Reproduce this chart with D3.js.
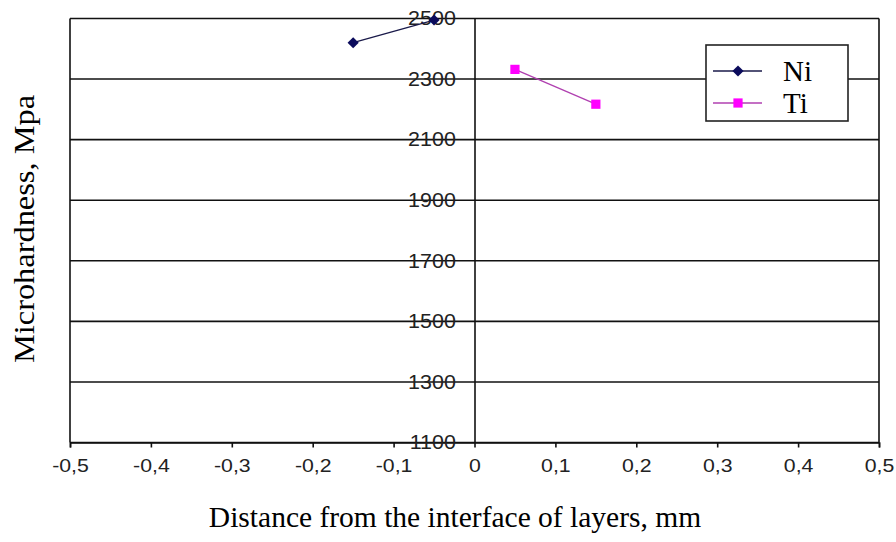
<!DOCTYPE html>
<html>
<head>
<meta charset="utf-8">
<script src="https://cdn.jsdelivr.net/npm/d3@7/dist/d3.min.js"></script>
<style>
  html, body { margin: 0; padding: 0; background: #fff; }
  svg { display: block; }
</style>
</head>
<body>
<svg id="chart" width="896" height="542"></svg>
<script>
// ---- data ----
const niX = [-0.15, -0.05];
const niY = [2420, 2495];
const tiX = [0.05, 0.15];
const tiY = [2332, 2217];
const xTicks = [-0.5, -0.4, -0.3, -0.2, -0.1, 0, 0.1, 0.2, 0.3, 0.4, 0.5];
const yTicks = [1100, 1300, 1500, 1700, 1900, 2100, 2300, 2500];
const seriesNames = ["Ni", "Ti"];
const seriesColors = ["#0b0b5c", "#ff00ff"];
const lineColors = ["#1a1a4a", "#b040b0"];

(function () {
const svg = d3.select("#chart");
const pLeft = 70, pRight = 879, pTop = 18.5, pBottom = 442.5;

const x = d3.scaleLinear().domain([-0.5, 0.5]).range([pLeft, pRight]);
const y = d3.scaleLinear().domain([1100, 2500]).range([pBottom, pTop]);

const fmt = v => (v === 0 ? "0" : d3.format(".1f")(v).replace(".", ",").replace("\u2212", "-"));

// horizontal gridlines
svg.append("g").selectAll("line").data(yTicks).join("line")
  .attr("x1", pLeft).attr("x2", pRight)
  .attr("y1", d => y(d)).attr("y2", d => y(d))
  .attr("stroke", "#111").attr("stroke-width", 1.6);

// left and right borders
svg.append("line").attr("x1", pLeft).attr("x2", pLeft).attr("y1", pTop).attr("y2", pBottom)
  .attr("stroke", "#111").attr("stroke-width", 1.6);
svg.append("line").attr("x1", pRight).attr("x2", pRight).attr("y1", pTop).attr("y2", pBottom)
  .attr("stroke", "#111").attr("stroke-width", 1.6);

// x axis at bottom
const xAxis = d3.axisBottom(x).tickValues(xTicks).tickSize(5).tickPadding(11).tickFormat(fmt);
const gx = svg.append("g").attr("transform", `translate(0,${pBottom})`).call(xAxis);
gx.select(".domain").attr("stroke", "#111").attr("stroke-width", 1.6);
gx.selectAll(".tick line").attr("stroke", "#111").attr("stroke-width", 1.6);
gx.selectAll(".tick text")
  .attr("fill", "#222")
  .attr("transform", "scale(1.12,1)")
  .style("font-family", "'Liberation Sans', Arial, sans-serif")
  .style("font-size", "19px");

// y axis at x=0
const yAxis = d3.axisLeft(y).tickValues(yTicks).tickSize(0).tickPadding(17).tickFormat(d3.format("d"));
const gy = svg.append("g").attr("transform", `translate(${x(0)},0)`).call(yAxis);
gy.select(".domain").attr("stroke", "#111").attr("stroke-width", 1.6);
gy.selectAll(".tick text")
  .attr("fill", "#222")
  .attr("transform", "scale(1.1,1)")
  .style("font-family", "'Liberation Sans', Arial, sans-serif")
  .style("font-size", "19.5px");

// series lines + markers
const line = d3.line().x(d => x(d[0])).y(d => y(d[1]));
const niPts = niX.map((v, i) => [v, niY[i]]);
const tiPts = tiX.map((v, i) => [v, tiY[i]]);

svg.append("path").datum(niPts).attr("d", line)
  .attr("fill", "none").attr("stroke", lineColors[0]).attr("stroke-width", 1.3);
svg.append("path").datum(tiPts).attr("d", line)
  .attr("fill", "none").attr("stroke", lineColors[1]).attr("stroke-width", 1.3);

const diamond = d3.symbol().type(d3.symbolDiamond2).size(80);
const square = d3.symbol().type(d3.symbolSquare).size(85);

svg.append("g").selectAll("path").data(niPts).join("path")
  .attr("d", diamond).attr("transform", d => `translate(${x(d[0])},${y(d[1])})`)
  .attr("fill", seriesColors[0]);
svg.append("g").selectAll("path").data(tiPts).join("path")
  .attr("d", square).attr("transform", d => `translate(${x(d[0])},${y(d[1])})`)
  .attr("fill", seriesColors[1]);

// legend
const lg = svg.append("g");
lg.append("rect").attr("x", 706).attr("y", 45).attr("width", 142).attr("height", 76)
  .attr("fill", "#fff").attr("stroke", "#222").attr("stroke-width", 1.6);
const legY = [71, 103];
const shapes = [diamond, square];
seriesNames.forEach((n, i) => {
  lg.append("line").attr("x1", 713).attr("x2", 762).attr("y1", legY[i]).attr("y2", legY[i])
    .attr("stroke", lineColors[i]).attr("stroke-width", 1.3);
  lg.append("path").attr("d", shapes[i]).attr("transform", `translate(738,${legY[i]})`)
    .attr("fill", seriesColors[i]);
  lg.append("text").attr("x", 783).attr("y", legY[i]).attr("dy", "0.35em")
    .style("font-family", "'Liberation Serif', 'Times New Roman', serif")
    .style("font-size", "29px").attr("fill", "#000").text(n);
});

// axis titles
svg.append("text").attr("x", 455).attr("y", 527)
  .attr("text-anchor", "middle")
  .style("font-family", "'Liberation Serif', 'Times New Roman', serif")
  .style("font-size", "29.5px").attr("fill", "#000")
  .text("Distance from the interface of layers, mm");
svg.append("text").attr("transform", "translate(34,229) rotate(-90) scale(1.08,1)")
  .attr("text-anchor", "middle")
  .style("font-family", "'Liberation Serif', 'Times New Roman', serif")
  .style("font-size", "30px").attr("fill", "#000")
  .text("Microhardness, Mpa");
})();
</script>
</body>
</html>
